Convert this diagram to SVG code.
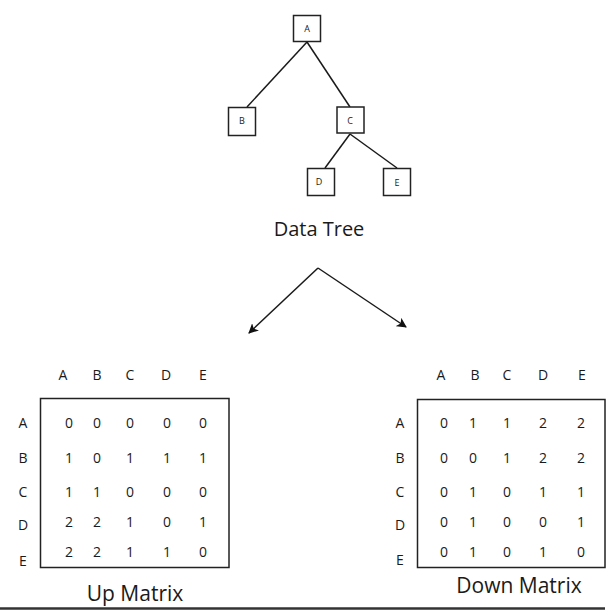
<svg xmlns="http://www.w3.org/2000/svg" width="612" height="612" viewBox="0 0 612 612">
<style>
text{font-family:"Open Sans","Liberation Sans",sans-serif;fill:#1a1a1a}
.box{fill:#fff;stroke:#222;stroke-width:1.5}
.nl{font-size:9px;text-anchor:middle}
.edge{stroke:#1a1a1a;stroke-width:1.5;fill:none}
.m{font-size:14px;text-anchor:middle}
.mbox{fill:none;stroke:#222;stroke-width:1.5}
.title{font-size:20px;text-anchor:middle}
</style>
<defs>
<marker id="ah" viewBox="0 0 10 10" refX="9" refY="5" markerWidth="10" markerHeight="10" markerUnits="userSpaceOnUse" orient="auto">
<path d="M0,0 L10,5 L0,10 L2.5,5 Z" fill="#111"/>
</marker>
</defs>
<g id="connectors">
<line class="edge" x1="307" y1="42" x2="247" y2="107"/>
<line class="edge" x1="307" y1="42" x2="350" y2="107"/>
<line class="edge" x1="350" y1="134" x2="325" y2="168"/>
<line class="edge" x1="350" y1="134" x2="397" y2="168"/>
<line class="edge" x1="318" y1="268" x2="249" y2="333" marker-end="url(#ah)"/>
<line class="edge" x1="318" y1="268" x2="406" y2="327" marker-end="url(#ah)"/>
</g>
<g id="nodeA"><rect class="box" x="293.5" y="15.5" width="27" height="26"/><text class="nl" x="307" y="32">A</text></g>
<g id="nodeB"><rect class="box" x="228.5" y="107.5" width="27" height="28"/><text class="nl" x="242" y="124">B</text></g>
<g id="nodeC"><rect class="box" x="337" y="107" width="27" height="26"/><text class="nl" x="350" y="124">C</text></g>
<g id="nodeD"><rect class="box" x="307.5" y="168.5" width="27" height="27"/><text class="nl" x="319" y="185">D</text></g>
<g id="nodeE"><rect class="box" x="383.5" y="168.5" width="27" height="27"/><text class="nl" x="397" y="186">E</text></g>
<text class="title" x="319" y="236">Data Tree</text>
<g id="upMatrix">
<rect class="mbox" x="40.5" y="398.5" width="188.5" height="169"/>
<g class="m">
<text class="m" x="63" y="380">A</text><text class="m" x="97" y="380">B</text><text class="m" x="130" y="380">C</text><text class="m" x="166" y="380">D</text><text class="m" x="203" y="380">E</text>
<text class="m" x="23" y="428">A</text><text class="m" x="23" y="463">B</text><text class="m" x="23" y="497">C</text><text class="m" x="23" y="530">D</text><text class="m" x="23" y="566">E</text>
<text class="m" x="69" y="428">0</text><text class="m" x="97" y="428">0</text><text class="m" x="130" y="428">0</text><text class="m" x="167" y="428">0</text><text class="m" x="203" y="428">0</text>
<text class="m" x="69" y="463">1</text><text class="m" x="97" y="463">0</text><text class="m" x="130" y="463">1</text><text class="m" x="167" y="463">1</text><text class="m" x="203" y="463">1</text>
<text class="m" x="69" y="497">1</text><text class="m" x="97" y="497">1</text><text class="m" x="130" y="497">0</text><text class="m" x="167" y="497">0</text><text class="m" x="203" y="497">0</text>
<text class="m" x="69" y="527">2</text><text class="m" x="97" y="527">2</text><text class="m" x="130" y="527">1</text><text class="m" x="167" y="527">0</text><text class="m" x="203" y="527">1</text>
<text class="m" x="69" y="557">2</text><text class="m" x="97" y="557">2</text><text class="m" x="130" y="557">1</text><text class="m" x="167" y="557">1</text><text class="m" x="203" y="557">0</text>
</g>
<text class="title" x="135" y="601" style="font-size:21px">Up Matrix</text>
</g>
<g id="downMatrix">
<rect class="mbox" x="417.5" y="399.5" width="187.5" height="168"/>
<text class="m" x="441" y="380">A</text><text class="m" x="475" y="380">B</text><text class="m" x="507" y="380">C</text><text class="m" x="543" y="380">D</text><text class="m" x="582" y="380">E</text>
<text class="m" x="400" y="428">A</text><text class="m" x="400" y="463">B</text><text class="m" x="400" y="497">C</text><text class="m" x="400" y="530">D</text><text class="m" x="400" y="565">E</text>
<text class="m" x="444" y="428">0</text><text class="m" x="473" y="428">1</text><text class="m" x="507" y="428">1</text><text class="m" x="543" y="428">2</text><text class="m" x="581" y="428">2</text>
<text class="m" x="444" y="463">0</text><text class="m" x="473" y="463">0</text><text class="m" x="507" y="463">1</text><text class="m" x="543" y="463">2</text><text class="m" x="581" y="463">2</text>
<text class="m" x="444" y="497">0</text><text class="m" x="473" y="497">1</text><text class="m" x="507" y="497">0</text><text class="m" x="543" y="497">1</text><text class="m" x="581" y="497">1</text>
<text class="m" x="444" y="527">0</text><text class="m" x="473" y="527">1</text><text class="m" x="507" y="527">0</text><text class="m" x="543" y="527">0</text><text class="m" x="581" y="527">1</text>
<text class="m" x="444" y="557">0</text><text class="m" x="473" y="557">1</text><text class="m" x="507" y="557">0</text><text class="m" x="543" y="557">1</text><text class="m" x="581" y="557">0</text>
<text class="title" x="519" y="593" style="font-size:21px">Down Matrix</text>
</g>
<line x1="0" y1="608.5" x2="605" y2="608.5" stroke="#333" stroke-width="2.5"/>
</svg>
